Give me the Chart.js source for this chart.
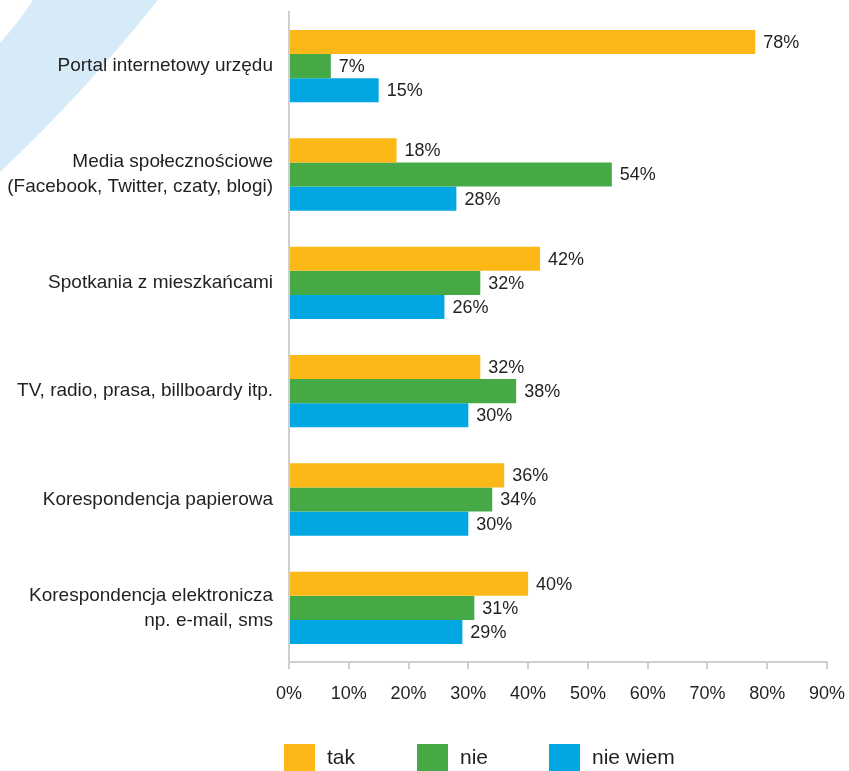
<!DOCTYPE html>
<html>
<head>
<meta charset="utf-8">
<script src="https://cdn.jsdelivr.net/npm/chart.js@4/dist/chart.umd.min.js"></script>
<style>
  html, body { margin: 0; padding: 0; background: #fff; }
  #wrap { width: 849px; height: 771px; position: relative; }
</style>
</head>
<body>
<div id="wrap"><canvas id="chart"></canvas></div>
<script>
/* ─── DATA ───────────────────────────────────────────── */
const categories = [
  "Portal internetowy urzędu",
  ["Media społecznościowe", "(Facebook, Twitter, czaty, blogi)"],
  "Spotkania z mieszkańcami",
  "TV, radio, prasa, billboardy itp.",
  "Korespondencja papierowa",
  ["Korespondencja elektronicza", "np. e-mail, sms"],
];
const seriesNames = ["tak", "nie", "nie wiem"];
const tak     = [78, 18, 42, 32, 36, 40];
const nie     = [7, 54, 32, 38, 34, 31];
const nieWiem = [15, 28, 26, 30, 30, 29];
const xTicks  = [0, 10, 20, 30, 40, 50, 60, 70, 80, 90];

const COLORS = ["#fbb817", "#45aa45", "#00a7e3"];
const TEXT   = "#231f20";
const AXIS   = "#cfcfcf";
const FONT   = "'Liberation Sans', Arial, sans-serif";

/* ─── PLUGINS ────────────────────────────────────────── */
// light blue ring segment in the top-left corner
const backdrop = {
  id: "backdrop",
  beforeDraw(chart) {
    const c = chart.ctx;
    c.save();
    c.fillStyle = "#d6eaf8";
    c.beginPath();
    c.moveTo(33, 0);
    c.lineTo(158, 0);
    c.quadraticCurveTo(85, 92, 0, 172);
    c.lineTo(0, 43);
    c.quadraticCurveTo(18, 23, 33, 0);
    c.closePath();
    c.fill();
    c.restore();
  }
};

// value labels to the right of every bar
const valueLabels = {
  id: "valueLabels",
  afterDatasetsDraw(chart) {
    const c = chart.ctx;
    c.save();
    c.font = `18px ${FONT}`;
    c.fillStyle = TEXT;
    c.textBaseline = "middle";
    c.textAlign = "left";
    chart.data.datasets.forEach((ds, i) => {
      chart.getDatasetMeta(i).data.forEach((bar, j) => {
        c.fillText(ds.data[j] + "%", bar.x + 8, bar.y + 1);
      });
    });
    c.restore();
  }
};

// legend with big squares under the axis
const bottomLegend = {
  id: "bottomLegend",
  afterDraw(chart) {
    const c = chart.ctx;
    const slots = [284, 417, 549];
    c.save();
    c.font = `21px ${FONT}`;
    c.textBaseline = "middle";
    chart.data.datasets.forEach((ds, i) => {
      const x = slots[i];
      c.fillStyle = ds.backgroundColor;
      c.fillRect(x, 744, 31, 27);
      c.fillStyle = TEXT;
      c.fillText(ds.label, x + 43, 758);
    });
    c.restore();
  }
};

/* ─── CHART ──────────────────────────────────────────── */
const ctx = document.getElementById("chart");

new Chart(ctx, {
  type: "bar",
  data: {
    labels: categories,
    datasets: [tak, nie, nieWiem].map((d, i) => ({
      label: seriesNames[i],
      data: d,
      backgroundColor: COLORS[i],
      borderWidth: 0,
      categoryPercentage: 0.667,
      barPercentage: 1.0,
    })),
  },
  options: {
    indexAxis: "y",
    responsive: true,
    maintainAspectRatio: false,
    animation: false,
    layout: { padding: { left: 0, top: 12, right: 22, bottom: 69 } },
    plugins: {
      legend: { display: false },
      tooltip: { enabled: false },
    },
    scales: {
      x: {
        min: 0,
        max: 90,
        afterBuildTicks: axis => { axis.ticks = xTicks.map(v => ({ value: v })); },
        ticks: {
          callback: v => v + "%",
          color: TEXT,
          font: { family: FONT, size: 18 },
          padding: 14,
          maxRotation: 0,
        },
        grid: {
          drawOnChartArea: false,
          drawTicks: true,
          tickLength: 7,
          color: AXIS,
          lineWidth: 2,
        },
        border: { display: true, color: AXIS, width: 2 },
        afterFit: axis => {
          axis.height = 40;
          axis.paddingLeft = 0;
          axis.paddingRight = 0;
        },
      },
      y: {
        ticks: {
          color: TEXT,
          font: { family: FONT, size: 19, lineHeight: 1.32 },
          padding: 16,
        },
        grid: { display: false, drawTicks: false },
        border: { display: true, color: AXIS, width: 2 },
        afterFit: axis => {
          axis.width = 289;
          axis.paddingTop = 0;
          axis.paddingBottom = 0;
        },
      },
    },
  },
  plugins: [backdrop, valueLabels, bottomLegend],
});
</script>
</body>
</html>
